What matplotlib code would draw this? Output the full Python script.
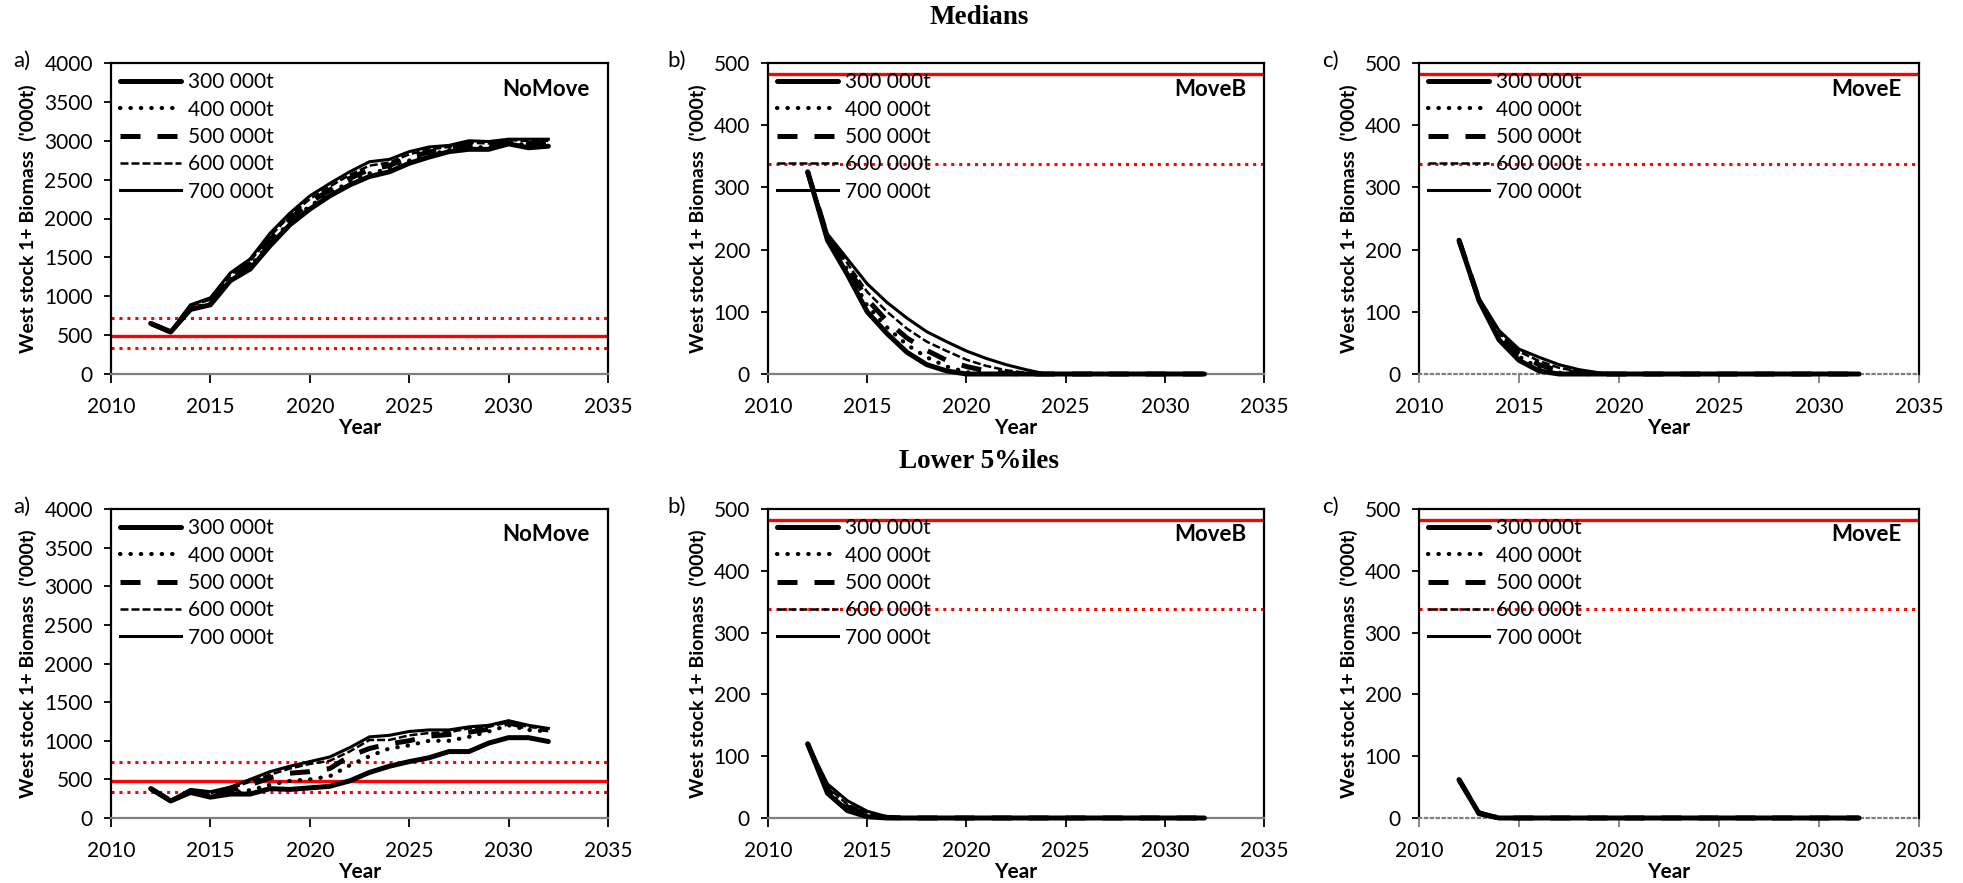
import numpy as np
import matplotlib
matplotlib.use("Agg")
import matplotlib.pyplot as plt

plt.rcParams['font.family'] = ['Lato', 'DejaVu Sans']

years = list(range(2012, 2033))
catch_labels = ['300 000t', '400 000t', '500 000t', '600 000t', '700 000t']

# reference points ('000t)
bpa = 483
b_low = 338
b_high = 724

# medians, NoMove
med_nomove = [
    [650, 540, 830, 890, 1200, 1350, 1650, 1920, 2120, 2290, 2430, 2540, 2600, 2710, 2790, 2860, 2890, 2890, 2960, 2910, 2930],
    [650, 542, 845, 910, 1225, 1385, 1690, 1955, 2160, 2325, 2470, 2580, 2640, 2745, 2820, 2880, 2920, 2915, 2980, 2940, 2955],
    [650, 543, 860, 935, 1250, 1415, 1730, 1995, 2205, 2365, 2515, 2630, 2680, 2785, 2855, 2900, 2950, 2940, 3000, 2965, 2980],
    [650, 544, 875, 958, 1275, 1450, 1770, 2035, 2250, 2410, 2560, 2680, 2720, 2825, 2890, 2920, 2975, 2965, 3010, 2995, 3000],
    [650, 545, 890, 980, 1300, 1480, 1810, 2070, 2290, 2450, 2600, 2730, 2760, 2860, 2920, 2940, 3000, 2990, 3020, 3020, 3020],
]
# medians, MoveB
med_moveb = [
    [325, 215, 160, 100, 65, 35, 15, 5, 0, 0, 0, 0, 0, 0, 0, 0, 0, 0, 0, 0, 0],
    [325, 218, 168, 110, 75, 47, 27, 12, 3, 0, 0, 0, 0, 0, 0, 0, 0, 0, 0, 0, 0],
    [325, 220, 172, 120, 85, 58, 38, 22, 12, 5, 1, 0, 0, 0, 0, 0, 0, 0, 0, 0, 0],
    [325, 222, 178, 132, 100, 73, 52, 37, 23, 13, 6, 2, 0, 0, 0, 0, 0, 0, 0, 0, 0],
    [325, 225, 185, 145, 115, 90, 68, 52, 37, 25, 15, 7, 0, 0, 0, 0, 0, 0, 0, 0, 0],
]
# medians, MoveE
med_movee = [
    [215, 118, 55, 22, 5, 0, 0, 0, 0, 0, 0, 0, 0, 0, 0, 0, 0, 0, 0, 0, 0],
    [215, 119, 60, 28, 10, 2, 0, 0, 0, 0, 0, 0, 0, 0, 0, 0, 0, 0, 0, 0, 0],
    [215, 120, 63, 32, 15, 5, 1, 0, 0, 0, 0, 0, 0, 0, 0, 0, 0, 0, 0, 0, 0],
    [215, 121, 66, 36, 21, 10, 4, 1, 0, 0, 0, 0, 0, 0, 0, 0, 0, 0, 0, 0, 0],
    [215, 122, 70, 40, 27, 15, 7, 2, 0, 0, 0, 0, 0, 0, 0, 0, 0, 0, 0, 0, 0],
]
# lower 5%iles, NoMove
low_nomove = [
    [380, 220, 330, 270, 310, 310, 380, 370, 390, 410, 480, 590, 670, 730, 780, 860, 860, 970, 1040, 1040, 990],
    [380, 222, 340, 290, 330, 360, 430, 480, 500, 540, 680, 800, 900, 940, 1000, 1000, 1050, 1120, 1200, 1140, 1120],
    [380, 225, 350, 305, 360, 430, 520, 580, 600, 640, 800, 900, 960, 1000, 1060, 1080, 1110, 1150, 1230, 1170, 1140],
    [380, 228, 360, 320, 380, 470, 560, 640, 700, 740, 860, 1010, 1010, 1070, 1100, 1110, 1160, 1180, 1240, 1180, 1150],
    [380, 230, 370, 340, 400, 500, 600, 670, 730, 790, 910, 1050, 1070, 1120, 1140, 1140, 1180, 1200, 1260, 1200, 1160],
]
# lower 5%iles, MoveB
low_moveb = [
    [120, 40, 12, 2, 0, 0, 0, 0, 0, 0, 0, 0, 0, 0, 0, 0, 0, 0, 0, 0, 0],
    [120, 43, 15, 4, 0, 0, 0, 0, 0, 0, 0, 0, 0, 0, 0, 0, 0, 0, 0, 0, 0],
    [120, 46, 18, 6, 1, 0, 0, 0, 0, 0, 0, 0, 0, 0, 0, 0, 0, 0, 0, 0, 0],
    [120, 50, 22, 8, 2, 0, 0, 0, 0, 0, 0, 0, 0, 0, 0, 0, 0, 0, 0, 0, 0],
    [120, 55, 28, 11, 2, 0, 0, 0, 0, 0, 0, 0, 0, 0, 0, 0, 0, 0, 0, 0, 0],
]
# lower 5%iles, MoveE
low_movee = [
    [62, 7, 0, 0, 0, 0, 0, 0, 0, 0, 0, 0, 0, 0, 0, 0, 0, 0, 0, 0, 0],
    [62, 8, 0, 0, 0, 0, 0, 0, 0, 0, 0, 0, 0, 0, 0, 0, 0, 0, 0, 0, 0],
    [62, 8, 0, 0, 0, 0, 0, 0, 0, 0, 0, 0, 0, 0, 0, 0, 0, 0, 0, 0, 0],
    [62, 9, 0, 0, 0, 0, 0, 0, 0, 0, 0, 0, 0, 0, 0, 0, 0, 0, 0, 0, 0],
    [62, 10, 0, 0, 0, 0, 0, 0, 0, 0, 0, 0, 0, 0, 0, 0, 0, 0, 0, 0, 0],
]

styles = [
    dict(ls='-', lw=3.6, solid_capstyle='round'),
    dict(ls=(0, (0.1, 2.4)), lw=3.0, dash_capstyle='round'),
    dict(ls=(0, (4, 3.4)), lw=3.6),
    dict(ls=(0, (3.2, 1.2)), lw=1.8),
    dict(ls='-', lw=2.2),
]

W, H = 1963, 883
fig = plt.figure(figsize=(W / 100, H / 100), dpi=100)

cols = [(111, 608), (768, 1264), (1419, 1919)]
rows = [(63, 374), (509, 818)]
tags = ['a)', 'b)', 'c)']
tag_x = [13, 667, 1322]
names = ['NoMove', 'MoveB', 'MoveE']
data = [[med_nomove, med_moveb, med_movee], [low_nomove, low_moveb, low_movee]]

for r, (top, bot) in enumerate(rows):
    for c, (left, right) in enumerate(cols):
        ax = fig.add_axes([left / W, 1 - bot / H, (right - left) / W, (bot - top) / H])
        series = data[r][c]
        nomove = c == 0
        for s, lab, st in zip(series, catch_labels, styles):
            ax.plot(years, s, color='black', label=lab, clip_on=False, zorder=3, **st)
        if nomove:
            ax.axhline(b_high, color='red', lw=2.2, ls=(0, (1, 1.6)))
            ax.axhline(b_low, color='red', lw=2.2, ls=(0, (1, 1.6)))
            ax.axhline(bpa, color='red', lw=2.4)
            ax.set_ylim(0, 4000)
            ax.set_yticks(range(0, 4001, 500))
        else:
            ax.axhline(b_low, color='red', lw=2.2, ls=(0, (1, 1.6)))
            ax.axhline(bpa, color='red', lw=2.4)
            ax.set_ylim(0, 500)
            ax.set_yticks(range(0, 501, 100))
        ax.set_xlim(2010, 2035)
        ax.set_xticks(range(2010, 2036, 5))
        ax.tick_params(axis='both', labelsize=15, direction='out', width=1.3, color='black')
        ax.tick_params(axis='x', length=6.5, pad=10)
        ax.tick_params(axis='y', length=5, pad=8)
        for sp in ['left', 'top', 'right']:
            ax.spines[sp].set_linewidth(1.6)
            ax.spines[sp].set_color('black')
        ax.spines['bottom'].set_color('#7f7f7f')
        ax.spines['bottom'].set_linewidth(1.6)
        if c == 2:
            ax.spines['bottom'].set_linestyle(':')
            ax.tick_params(axis='x', color='#7f7f7f')
        ax.set_xlabel('Year', fontsize=15, fontweight='bold', labelpad=1)
        ax.set_ylabel("West stock 1+ Biomass  ('000t)", fontsize=14, fontweight='bold', labelpad=5)
        ax.text(0.964, 0.916, names[c], transform=ax.transAxes, ha='right', va='center',
                fontsize=16, fontweight='bold')
        ax.legend(loc='upper left', frameon=False, fontsize=15, handlelength=2.9,
                  handletextpad=0.33, labelspacing=0.35, borderaxespad=0.05,
                  bbox_to_anchor=(0.0, 1.0))
        fig.text(tag_x[c] / W, 1 - (top - 2) / H, tags[c], fontsize=16, ha='left', va='center')

fig.text(979 / W, 1 - 18 / H, 'Medians', family='Liberation Serif', fontweight='bold',
         fontsize=19.5, ha='center', va='center')
fig.text(979 / W, 1 - 461 / H, 'Lower 5%iles', family='Liberation Serif', fontweight='bold',
         fontsize=19.5, ha='center', va='center')

fig.savefig('out.png', dpi=100, facecolor='white')
